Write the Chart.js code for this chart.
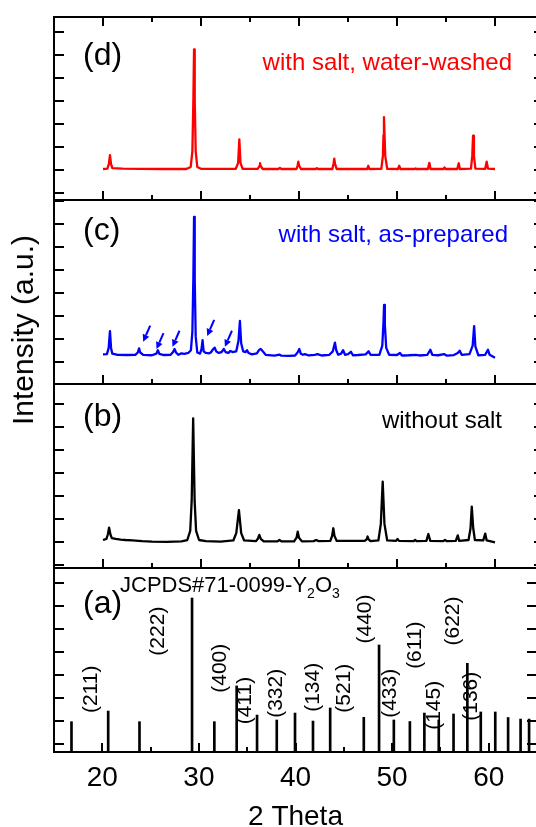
<!DOCTYPE html>
<html><head><meta charset="utf-8">
<script src="https://cdn.jsdelivr.net/npm/chart.js@4.4.1/dist/chart.umd.min.js"></script>
<style>
html,body{margin:0;padding:0;background:#fff;overflow:hidden;}
#wrap{position:relative;width:536px;height:827px;overflow:hidden;background:#fff;}
#wrap canvas{position:absolute;left:0;top:0;}
#ytitle{position:absolute;left:23px;top:330px;transform:translate(-50%,-50%) rotate(-90deg);font-size:30px;font-family:"Liberation Sans",Arial,sans-serif;white-space:nowrap;color:#000;}
</style></head><body>
<div id="wrap">
<canvas id="pd" width="546" height="840"></canvas>
<canvas id="pc" width="546" height="840"></canvas>
<canvas id="pb" width="546" height="840"></canvas>
<canvas id="pa" width="546" height="840"></canvas>
<div id="ytitle">Intensity (a.u.)</div>
</div>
<script>
// ---------------- data ----------------
const twoThetaTicks = [15, 20, 25, 30, 35, 40, 45, 50, 55, 60, 65];
const twoThetaLabels = [20, 30, 40, 50, 60];

// (d) with salt, water-washed
const dTheta = [20.0,20.45,20.6,20.71,20.82,20.95,22.0,24.0,26.0,28.5,28.95,29.12,29.22,29.29,29.36,29.46,29.62,30.0,33.55,33.79,33.91,34.03,34.25,35.8,35.95,36.02,36.1,36.3,37.9,38.05,38.2,39.75,39.86,39.93,40.01,40.2,41.7,41.82,41.95,43.4,43.52,43.6,43.68,43.85,46.95,47.07,47.18,48.4,48.56,48.62,48.67,48.73,48.8,49.0,50.1,50.23,50.35,51.8,51.9,52.0,53.15,53.3,53.42,54.75,54.85,54.95,56.15,56.3,56.42,57.55,57.68,57.76,57.85,58.0,59.0,59.15,59.28,60.0];
const dInt   = [0.03,0.05,0.25,0.63,0.25,0.07,0.05,0.04,0.03,0.03,0.12,0.8,3.0,5.23,3.0,0.8,0.12,0.04,0.04,0.3,1.32,0.3,0.04,0.04,0.15,0.28,0.15,0.03,0.03,0.08,0.03,0.03,0.18,0.35,0.18,0.03,0.03,0.07,0.03,0.03,0.25,0.48,0.25,0.03,0.03,0.17,0.03,0.04,0.6,1.5,2.28,1.5,0.6,0.04,0.03,0.17,0.03,0.03,0.06,0.03,0.03,0.3,0.03,0.03,0.1,0.03,0.03,0.28,0.03,0.05,0.6,1.48,0.6,0.05,0.04,0.35,0.05,0.03];

// (c) with salt, as-prepared
const cTheta = [20.0,20.4,20.58,20.71,20.82,20.95,21.5,22.5,23.3,23.55,23.68,23.8,24.1,25.0,25.45,25.6,25.75,26.2,26.9,27.15,27.3,27.45,27.7,28.0,28.3,28.7,28.97,29.12,29.22,29.29,29.36,29.46,29.62,29.9,30.05,30.16,30.27,30.5,30.8,31.0,31.25,31.4,31.55,31.8,32.1,32.33,32.5,32.8,33.0,33.2,33.6,33.82,33.97,34.1,34.3,34.55,34.7,34.85,35.2,35.7,35.95,36.1,36.3,36.6,37.5,38.0,38.2,39.0,39.6,39.85,40.03,40.18,40.4,40.6,41.0,41.6,41.9,42.3,43.1,43.45,43.67,43.8,44.0,44.3,44.5,44.7,45.0,45.3,45.5,46.0,46.8,47.1,47.3,48.2,48.5,48.62,48.68,48.76,48.9,49.2,50.0,50.3,50.5,51.2,51.9,52.3,53.1,53.4,53.6,54.2,54.8,55.1,55.8,56.2,56.4,56.6,57.4,57.72,57.87,58.0,58.3,59.0,59.28,59.45,60.0];
const cInt   = [0.32,0.33,0.6,1.33,0.6,0.35,0.3,0.29,0.3,0.4,0.58,0.4,0.3,0.28,0.35,0.5,0.34,0.29,0.3,0.42,0.55,0.4,0.3,0.36,0.34,0.38,0.5,1.3,3.6,6.3,3.6,1.1,0.4,0.35,0.55,0.94,0.45,0.38,0.36,0.4,0.55,0.61,0.45,0.38,0.42,0.55,0.42,0.38,0.47,0.42,0.45,0.9,1.77,0.8,0.45,0.42,0.5,0.38,0.32,0.36,0.52,0.55,0.45,0.3,0.26,0.31,0.26,0.25,0.27,0.4,0.55,0.35,0.3,0.33,0.27,0.3,0.33,0.27,0.3,0.45,0.83,0.5,0.3,0.35,0.5,0.3,0.33,0.43,0.28,0.29,0.32,0.45,0.3,0.3,0.7,1.7,2.47,1.6,0.6,0.3,0.29,0.38,0.27,0.28,0.3,0.27,0.3,0.52,0.3,0.28,0.33,0.26,0.29,0.38,0.48,0.3,0.33,0.7,1.55,0.65,0.28,0.3,0.52,0.3,0.17];

// (b) without salt
const bTheta = [20.0,20.35,20.5,20.62,20.75,20.9,21.3,21.8,22.3,23.0,24.0,25.0,26.5,28.0,28.6,28.9,29.05,29.2,29.35,29.5,29.8,30.5,32.0,33.3,33.6,33.87,34.1,34.4,35.6,35.8,35.95,36.1,36.4,37.8,38.0,38.2,39.5,39.75,39.87,40.0,40.3,41.5,41.75,42.0,43.2,43.38,43.5,43.62,43.85,46.7,46.9,47.0,47.1,47.3,48.1,48.35,48.54,48.72,49.0,49.9,50.05,50.2,51.7,51.85,52.0,53.0,53.2,53.4,54.7,54.9,55.1,56.0,56.2,56.35,57.3,57.5,57.63,57.78,57.95,58.8,59.0,59.15,60.0];
const bInt   = [0.1,0.15,0.35,0.64,0.35,0.18,0.15,0.12,0.1,0.08,0.05,0.03,0.02,0.04,0.1,0.5,1.8,5.39,1.8,0.5,0.1,0.05,0.03,0.08,0.4,1.4,0.4,0.08,0.05,0.15,0.32,0.15,0.04,0.04,0.1,0.04,0.04,0.2,0.46,0.2,0.04,0.05,0.1,0.05,0.06,0.28,0.61,0.28,0.06,0.06,0.13,0.25,0.13,0.05,0.08,0.8,2.64,0.8,0.08,0.06,0.15,0.06,0.05,0.1,0.05,0.06,0.36,0.06,0.05,0.1,0.05,0.06,0.3,0.06,0.1,0.6,1.55,0.6,0.1,0.08,0.38,0.08,0.0];

// (a) JCPDS#71-0099 Y2O3 reference sticks (relative intensity)
const refTheta = [16.81,20.61,23.85,29.29,31.6,33.91,36.02,38.06,39.95,41.81,43.59,47.07,48.65,50.18,51.84,53.34,54.83,56.36,57.79,59.18,60.68,62.01,63.3,64.18];
const refInt   = [19.7,26.6,19.7,100,19.7,42.9,24.0,20.8,25.3,20.1,28.6,22.5,69.5,20.8,19.8,25.3,20.8,24.7,57.6,26.0,26.0,22.4,21.4,21.4];

// Miller indices and where they are written (2θ, level)
const hklNames = ['(211)','(222)','(400)','(411)','(332)','(134)','(521)','(440)','(433)','(611)','(145)','(622)','(136)'];
const hklTheta = [18.82,25.8,32.23,34.79,38.05,41.83,45.0,47.25,49.8,52.36,54.4,56.35,58.19];
const hklLevel = [40.7,78.5,54.4,33.4,38.1,42.0,41.4,86.4,38.1,69.4,30.3,85.1,36.2];

// arrows marking impurity peaks in (c): arrow tips (2θ, level)
const arrowTheta = [24.1,25.46,27.09,30.63,32.44];
const arrowLevel = [0.87,0.55,0.65,1.12,0.65];

const panelTags = ['(d)','(c)','(b)','(a)'];
const sampleNames = ['with salt, water-washed','with salt, as-prepared','without salt'];

// ---------------- drawing ----------------
const FF = '"Liberation Sans", Arial, sans-serif';
const CW = 546, CH = 840, PL = 54, PR = 544;

const framePlugin = {
  id: 'frame',
  afterDraw(chart) {
    const o = chart.options.plugins.frame;
    const {ctx, chartArea: a} = chart;
    const x = chart.scales.x, y = chart.scales.y;
    ctx.save();
    ctx.strokeStyle = '#000';
    ctx.lineWidth = 2;
    ctx.strokeRect(a.left, a.top, a.right - a.left, a.bottom - a.top);
    ctx.beginPath();
    twoThetaTicks.forEach(v => {
      const px = Math.round(x.getPixelForValue(v));
      const len = v % 10 === 0 ? 9 : 5;
      ctx.moveTo(px, a.bottom); ctx.lineTo(px, a.bottom - len);
      if (o.topTicks) { ctx.moveTo(px, a.top); ctx.lineTo(px, a.top + len); }
    });
    o.yTicks.forEach((v, i) => {
      const py = Math.round(y.getPixelForValue(v));
      const len = 10;
      ctx.moveTo(a.left, py); ctx.lineTo(a.left + len, py);
      ctx.moveTo(a.right, py); ctx.lineTo(a.right - len, py);
    });
    ctx.stroke();
    // panel tag
    ctx.fillStyle = '#000';
    ctx.textBaseline = 'alphabetic';
    ctx.textAlign = 'left';
    ctx.font = '32px ' + FF;
    ctx.fillText(o.tag, a.left + 29, a.top + o.tagDy);
    if (o.name) {
      ctx.fillStyle = o.color;
      ctx.textAlign = 'right';
      ctx.font = '24px ' + FF;
      ctx.fillText(o.name, a.left + o.nameDx, a.top + o.nameDy);
    }
    if (o.arrows) {
      ctx.strokeStyle = o.color; ctx.fillStyle = o.color; ctx.lineWidth = 2;
      arrowTheta.forEach((t, i) => {
        const hx = x.getPixelForValue(t), hy = y.getPixelForValue(arrowLevel[i]);
        const tx = hx + 7, ty = hy - 16;
        const dx = hx - tx, dy = hy - ty, L = Math.hypot(dx, dy);
        const ux = dx / L, uy = dy / L;
        const bx = hx - ux * 7, by = hy - uy * 7;
        ctx.beginPath(); ctx.moveTo(tx, ty); ctx.lineTo(bx, by); ctx.stroke();
        ctx.beginPath();
        ctx.moveTo(hx, hy);
        ctx.lineTo(bx - uy * 3.5, by + ux * 3.5);
        ctx.lineTo(bx + uy * 3.5, by - ux * 3.5);
        ctx.closePath(); ctx.fill();
      });
    }
    if (o.ref) {
      ctx.fillStyle = '#000';
      ctx.textAlign = 'left';
      let cx = a.left + 66; const by = a.top + 24;
      const parts = [['JCPDS#71-0099-Y', 22, 0], ['2', 14, 6], ['O', 22, 0], ['3', 14, 6]];
      parts.forEach(p => {
        ctx.font = p[1] + 'px ' + FF;
        ctx.fillText(p[0], cx, by + p[2]);
        cx += ctx.measureText(p[0]).width;
      });
      ctx.font = '21px ' + FF;
      ctx.textAlign = 'center';
      ctx.textBaseline = 'middle';
      hklNames.forEach((n, i) => {
        ctx.save();
        ctx.translate(x.getPixelForValue(hklTheta[i]), y.getPixelForValue(hklLevel[i]));
        ctx.rotate(-Math.PI / 2);
        ctx.fillText(n, 0, 0);
        ctx.restore();
      });
    }
    ctx.restore();
  }
};

function pts(xs, ys) { return xs.map((v, i) => ({x: v, y: ys[i]})); }

const panels = [
  {id: 'pd', top: 17, bottom: 200, yMin: -1.317, yMax: 6.639, yTicks: [-1,0,1,2,3,4,5,6], theta: dTheta, inten: dInt, color: '#ff0000', tag: panelTags[0], name: sampleNames[0], tagDy: 48, nameDx: 458, nameDy: 53, topTicks: true},
  {id: 'pc', top: 200, bottom: 384, yMin: -0.97, yMax: 7.03, yTicks: [0,1,2,3,4,5,6,7], theta: cTheta, inten: cInt, color: '#0000ff', tag: panelTags[1], name: sampleNames[1], tagDy: 40, nameDx: 454, nameDy: 42, arrows: true},
  {id: 'pb', top: 384, bottom: 568, yMin: -1.117, yMax: 6.883, yTicks: [-1,0,1,2,3,4,5,6], theta: bTheta, inten: bInt, color: '#000000', tag: panelTags[2], name: sampleNames[2], tagDy: 42, nameDx: 448, nameDy: 44}
];

panels.forEach(p => {
  new Chart(document.getElementById(p.id), {
    type: 'line',
    data: {datasets: [{data: pts(p.theta, p.inten), borderColor: p.color, borderWidth: 2.3, pointRadius: 0, tension: 0, borderJoinStyle: 'round', fill: false}]},
    options: {
      responsive: false, animation: false, devicePixelRatio: 1,
      layout: {padding: {left: PL, right: CW - PR, top: p.top, bottom: CH - p.bottom}},
      plugins: {legend: {display: false}, tooltip: {enabled: false},
        frame: {yTicks: p.yTicks, tag: p.tag, name: p.name, color: p.color, tagDy: p.tagDy, nameDx: p.nameDx, nameDy: p.nameDy, topTicks: !!p.topTicks, arrows: !!p.arrows}},
      scales: {
        x: {type: 'linear', min: 15, max: 65, display: false},
        y: {type: 'linear', min: p.yMin, max: p.yMax, display: false}
      }
    },
    plugins: [framePlugin]
  });
});

// (a) reference pattern with the shared 2θ axis
new Chart(document.getElementById('pa'), {
  type: 'bar',
  data: {datasets: [{data: pts(refTheta, refInt), backgroundColor: '#000', borderWidth: 0, barThickness: 2, grouped: false}]},
  options: {
    responsive: false, animation: false, devicePixelRatio: 1,
    layout: {padding: {left: PL, right: CW - PR, top: 568, bottom: 0}},
    plugins: {legend: {display: false}, tooltip: {enabled: false},
      frame: {yTicks: [5,20,35,50,65,80,95,110], tag: panelTags[3], tagDy: 45, ref: true}},
    scales: {
      x: {type: 'linear', min: 15, max: 65, offset: false, position: 'bottom',
        grid: {display: false, drawTicks: false, offset: false}, border: {display: false},
        ticks: {stepSize: 5, autoSkip: false, maxRotation: 0, padding: 9, color: '#000',
          font: {size: 28, family: FF},
          callback: v => twoThetaLabels.includes(v) ? String(v) : ''},
        title: {display: true, text: '2 Theta', color: '#000', font: {size: 28, family: FF}, padding: {top: 0, bottom: 6}},
        afterFit: s => { s.height = CH - 752; }
      },
      y: {type: 'linear', min: 0, max: 119.5, display: false}
    }
  },
  plugins: [framePlugin]
});
</script>
</body></html>
